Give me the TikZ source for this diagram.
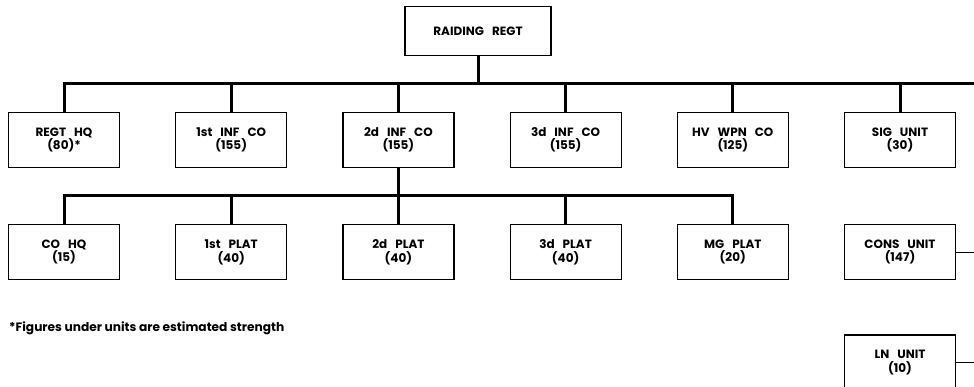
\documentclass[tikz,border=0pt]{standalone}
\usepackage{fontspec}
\newfontfamily\orgfont{Poppins}
\newcommand{\widespace}{\spaceskip=8pt plus 1pt\relax}
\usetikzlibrary{positioning}
\tikzset{
  unit/.style={draw,line width=1.2pt,minimum width=111pt,minimum height=55pt,align=center,
    inner sep=2pt,font=\orgfont\bfseries\fontsize{12}{13.5}\selectfont\widespace},
  bus/.style={line width=3pt},
  link/.style={line width=1pt},
  note/.style={font=\orgfont\bfseries\fontsize{12.2}{13}\selectfont,inner sep=0pt}
}

\begin{document}
\begin{tikzpicture}[x=1pt,y=-1pt,node distance=55pt]
  \useasboundingbox (0,0) rectangle (974,387);
  \node[unit,minimum width=146pt,minimum height=49pt] (regt) at (478,31) {RAIDING REGT};
  % first echelon
  \node[unit] (regthq) at (64,140) {REGT HQ\\(80)*};
  \node[unit,right=of regthq] (inf1) {1st INF CO\\(155)};
  \node[unit,right=of inf1] (inf2) {2d INF CO\\(155)};
  \node[unit,right=of inf2] (inf3) {3d INF CO\\(155)};
  \node[unit,right=of inf3] (hvwpn) {HV WPN CO\\(125)};
  \node[unit,right=of hvwpn] (sig) {SIG UNIT\\(30)};
  % platoons of 2d inf co
  \node[unit,below=56pt of regthq] (cohq) {CO HQ\\(15)};
  \node[unit,right=of cohq] (plat1) {1st PLAT\\(40)};
  \node[unit,right=of plat1] (plat2) {2d PLAT\\(40)};
  \node[unit,right=of plat2] (plat3) {3d PLAT\\(40)};
  \node[unit,right=of plat3] (mgplat) {MG PLAT\\(20)};
  \node[unit,below=56pt of sig] (cons) {CONS UNIT\\(147)};
  \node[unit,below=54pt of cons] (ln) {LN UNIT\\(10)};
  \node[note,anchor=base west] (fn) at (9,331) {*Figures under units are estimated strength};
  % connectors
  \coordinate (busR) at (974,84);
  \coordinate (platbus) at (0,196);
  \coordinate (edge) at (974,0);
  \draw[bus] (regt.south) -- (regt.south|-busR);
  \draw[bus] (regthq.north) |- (busR);
  \foreach \u in {inf1,inf2,inf3,hvwpn,sig}
    \draw[bus] (\u.north) -- (\u.north|-busR);
  \draw[bus] (inf2.south) -- (inf2.south|-platbus);
  \draw[bus] (cohq.north) |- (mgplat.north|-platbus) -- (mgplat.north);
  \foreach \u in {plat1,plat2,plat3}
    \draw[bus] (\u.north) -- (\u.north|-platbus);
  \draw[link] (cons.east) -- (cons.east-|edge);
  \draw[link] (ln.east) -- (ln.east-|edge);
\end{tikzpicture}
\end{document}
